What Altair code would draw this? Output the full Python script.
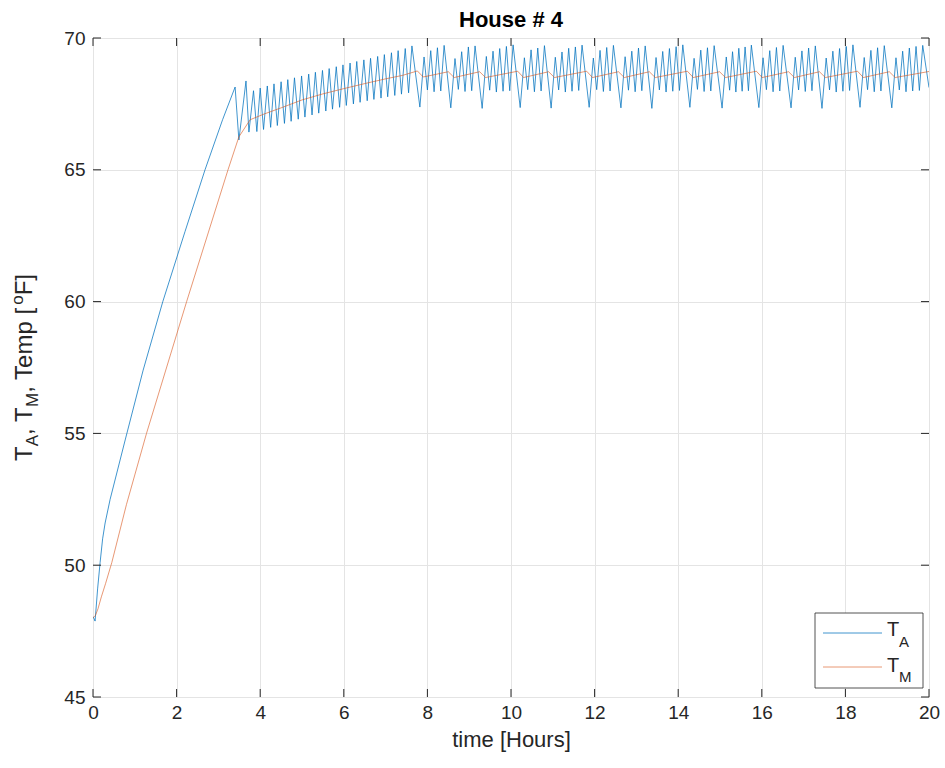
import altair as alt
import pandas as pd

# ---------------- data ----------------
# T_A : air temperature, turning points (hours, degF)
ta_t = [0.00, 0.05, 0.11, 0.17, 0.23, 0.29, 0.41, 0.77, 1.20, 1.67, 2.20, 2.68, 3.10, 3.40, 3.49, 3.66, 3.73,
        3.84, 3.92, 4.00, 4.08, 4.17, 4.25, 4.33, 4.41, 4.50, 4.58, 4.66, 4.74, 4.82, 4.91, 4.99, 5.07,
        5.16, 5.24, 5.32, 5.40, 5.49, 5.57, 5.65, 5.73, 5.82, 5.90, 5.98, 6.06, 6.15, 6.23, 6.31, 6.39,
        6.48, 6.56, 6.64, 6.72, 6.81, 6.89, 6.97, 7.05, 7.14, 7.22, 7.30, 7.38, 7.47, 7.55, 7.63, 7.82,
        7.92, 8.00, 8.08, 8.16, 8.24, 8.32, 8.40, 8.56,
        8.66, 8.74, 8.82, 8.90, 8.98, 9.06, 9.14, 9.31,
        9.41, 9.49, 9.57, 9.65, 9.73, 9.81, 9.89, 9.97, 10.05, 10.22,
        10.32, 10.40, 10.48, 10.56, 10.64, 10.72, 10.80, 10.96,
        11.06, 11.14, 11.22, 11.30, 11.38, 11.46, 11.54, 11.62, 11.70, 11.87,
        11.97, 12.05, 12.13, 12.21, 12.29, 12.37, 12.45, 12.63,
        12.73, 12.81, 12.89, 12.97, 13.05, 13.13, 13.21, 13.37,
        13.47, 13.55, 13.63, 13.71, 13.79, 13.87, 13.95, 14.03, 14.11, 14.28,
        14.38, 14.46, 14.54, 14.62, 14.70, 14.78, 14.86, 15.05,
        15.15, 15.23, 15.30, 15.38, 15.45, 15.53, 15.60, 15.68, 15.75, 15.93,
        16.03, 16.11, 16.19, 16.27, 16.35, 16.43, 16.51, 16.70,
        16.80, 16.88, 16.96, 17.04, 17.12, 17.20, 17.28, 17.44,
        17.54, 17.62, 17.70, 17.78, 17.86, 17.94, 18.02, 18.10, 18.18, 18.35,
        18.45, 18.53, 18.61, 18.69, 18.77, 18.85, 18.93, 19.11,
        19.21, 19.29, 19.37, 19.45, 19.53, 19.61, 19.69, 19.77, 19.85, 20.00]
ta_v = [48.05, 47.88, 49.10, 50.10, 51.00, 51.60, 52.50, 54.75, 57.40, 60.00, 62.65, 65.00, 66.90, 68.14, 66.13, 68.37, 66.43,
        68.00, 66.45, 68.10, 66.53, 68.18, 66.61, 68.26, 66.68, 68.34, 66.76, 68.42, 66.84, 68.49, 66.92, 68.56, 67.00,
        68.63, 67.08, 68.70, 67.15, 68.77, 67.23, 68.84, 67.30, 68.91, 67.37, 68.98, 67.44, 69.05, 67.50, 69.11, 67.56,
        69.17, 67.62, 69.23, 67.67, 69.30, 67.72, 69.37, 67.77, 69.44, 67.82, 69.52, 67.87, 69.60, 67.92, 69.70, 67.38,
        69.28, 68.03, 69.52, 67.96, 69.63, 67.99, 69.72, 67.35,
        69.22, 68.05, 69.48, 67.97, 69.66, 68.00, 69.70, 67.33,
        69.30, 68.02, 69.50, 67.95, 69.60, 67.98, 69.68, 68.00, 69.74, 67.36,
        69.25, 68.04, 69.55, 67.96, 69.62, 67.99, 69.71, 67.34,
        69.27, 68.03, 69.47, 67.95, 69.61, 67.98, 69.66, 68.01, 69.73, 67.37,
        69.24, 68.04, 69.53, 67.97, 69.64, 67.99, 69.72, 67.35,
        69.29, 68.02, 69.50, 67.96, 69.62, 68.00, 69.70, 67.33,
        69.26, 68.03, 69.49, 67.95, 69.60, 67.98, 69.67, 68.01, 69.74, 67.37,
        69.23, 68.05, 69.54, 67.97, 69.63, 67.99, 69.71, 67.34,
        69.28, 68.02, 69.48, 67.95, 69.61, 67.98, 69.66, 68.00, 69.73, 67.36,
        69.25, 68.04, 69.52, 67.96, 69.64, 67.99, 69.72, 67.35,
        69.27, 68.03, 69.51, 67.97, 69.62, 68.00, 69.70, 67.33,
        69.24, 68.03, 69.50, 67.95, 69.60, 67.98, 69.68, 68.01, 69.74, 67.37,
        69.26, 68.04, 69.53, 67.96, 69.63, 67.99, 69.71, 67.35,
        69.25, 68.03, 69.50, 67.96, 69.62, 67.99, 69.68, 68.01, 69.72, 68.12]

# T_M : mass temperature
tm_t = [0.00, 0.06, 0.12, 0.20, 0.30, 0.45, 0.80, 1.28, 2.24, 3.23, 3.49, 3.76, 4.10, 4.50, 5.00, 5.50, 6.00, 6.50, 7.00, 7.40, 7.76,
        7.90, 8.50, 8.64, 9.25, 9.39, 10.16, 10.30, 10.90, 11.04, 11.81, 11.95, 12.57, 12.71, 13.31,
        13.45, 14.22, 14.36, 14.99, 15.13, 15.87, 16.01, 16.64, 16.78, 17.38, 17.52, 18.29, 18.43, 19.05,
        19.19, 20.00]
tm_v = [48.00, 48.10, 48.35, 48.80, 49.30, 50.10, 52.30, 55.00, 60.00, 65.00, 66.25, 66.90, 67.12, 67.35, 67.65, 67.88, 68.08, 68.27, 68.45, 68.58, 68.75,
        68.52, 68.72, 68.50, 68.72, 68.50, 68.74, 68.50, 68.72, 68.50, 68.74, 68.50, 68.72, 68.50, 68.72,
        68.50, 68.74, 68.50, 68.72, 68.50, 68.74, 68.50, 68.72, 68.50, 68.72, 68.50, 68.74, 68.50, 68.72,
        68.50, 68.73]

x_ticks = [0, 2, 4, 6, 8, 10, 12, 14, 16, 18, 20]
y_ticks = [45, 50, 55, 60, 65, 70]
series_names = ["T_A", "T_M"]

# ---------------- styling ----------------
W, H = 836, 659
FONT = "Liberation Sans"
BLUE = "#0072BD"
ORANGE = "#D95319"
AXC = "#262626"
BOX = "#7a7a7a"
TICK_LEN = 8

df_a = pd.DataFrame({"t": ta_t, "v": ta_v, "i": range(len(ta_t))})
df_m = pd.DataFrame({"t": tm_t, "v": tm_v, "i": range(len(tm_t))})
one = pd.DataFrame({"a": [0]})

xs = alt.Scale(domain=[0, 20], nice=False, zero=False)
ys = alt.Scale(domain=[45, 70], nice=False, zero=False)

x_enc = alt.X("t:Q", scale=xs,
              axis=alt.Axis(values=x_ticks, title="time [Hours]", grid=True, ticks=False, domain=False,
                            labelPadding=6, titlePadding=7, labelFontSize=19, titleFontSize=22,
                            labelFont=FONT, titleFont=FONT, labelColor=AXC, titleColor=AXC,
                            titleFontWeight="normal", gridColor="#e4e4e4", labelFlush=False))
y_enc = alt.Y("v:Q", scale=ys,
              axis=alt.Axis(values=y_ticks, title=None, grid=True, ticks=False, domain=False,
                            labelPadding=8, labelFontSize=19, labelFont=FONT, labelColor=AXC,
                            gridColor="#e4e4e4", labelFlush=False))

line_a = alt.Chart(df_a).mark_line(color=BLUE, strokeWidth=1, opacity=0.75, clip=True).encode(
    x=x_enc, y=y_enc, order="i:Q")
line_m = alt.Chart(df_m).mark_line(color=ORANGE, strokeWidth=1, opacity=0.6, clip=True).encode(
    x=alt.X("t:Q", scale=xs), y=alt.Y("v:Q", scale=ys), order="i:Q")

df_xt = pd.DataFrame({"t": x_ticks})
df_yt = pd.DataFrame({"v": y_ticks})
tick_b = alt.Chart(df_xt).mark_rule(color=AXC, strokeWidth=1).encode(
    x=alt.X("t:Q", scale=xs), y=alt.value(H), y2=alt.value(H - TICK_LEN))
tick_t = alt.Chart(df_xt).mark_rule(color=AXC, strokeWidth=1).encode(
    x=alt.X("t:Q", scale=xs), y=alt.value(0), y2=alt.value(TICK_LEN))
tick_l = alt.Chart(df_yt).mark_rule(color=AXC, strokeWidth=1).encode(
    y=alt.Y("v:Q", scale=ys), x=alt.value(0), x2=alt.value(TICK_LEN))
tick_r = alt.Chart(df_yt).mark_rule(color=AXC, strokeWidth=1).encode(
    y=alt.Y("v:Q", scale=ys), x=alt.value(W), x2=alt.value(W - TICK_LEN))

# ---------------- legend (drawn by hand for subscripts) ----------------
LX0, LX1, LY0, LY1 = 722, 830, 575, 650
leg_box = alt.Chart(one).mark_rect(fill="white", stroke=AXC, strokeWidth=0.8).encode(
    x=alt.value(LX0), x2=alt.value(LX1), y=alt.value(LY0), y2=alt.value(LY1))
leg_la = alt.Chart(one).mark_rule(color=BLUE, strokeWidth=1, opacity=0.75).encode(
    x=alt.value(730), x2=alt.value(789), y=alt.value(595))
leg_lm = alt.Chart(one).mark_rule(color=ORANGE, strokeWidth=1, opacity=0.6).encode(
    x=alt.value(730), x2=alt.value(789), y=alt.value(629))

def txt(s, x, y, size, angle=0, weight="normal", align="left", color=AXC):
    return alt.Chart(one).mark_text(text=s, font=FONT, fontSize=size, color=color, align=align,
                                    baseline="alphabetic", angle=angle, fontWeight=weight).encode(
        x=alt.value(x), y=alt.value(y))

leg_txt = [
    txt("T", 794, 598, 20), txt("A", 806, 609, 15),
    txt("T", 794, 634, 20), txt("M", 806, 644, 15),
]

# ---------------- title ----------------
title_txt = txt("House # 4", W / 2, -11, 22, weight="bold", align="center", color="#000000")

# ---------------- y-axis title with sub/superscripts ----------------
CW = {"T": 0.611, "A": 0.667, "M": 0.833, ",": 0.278, " ": 0.278, "e": 0.556, "m": 0.833,
      "p": 0.556, "[": 0.278, "]": 0.278, "o": 0.556, "F": 0.611}
FM, FS = 24, 17
pieces = [("T", FM, 0), ("A", FS, 6), (", T", FM, 0), ("M", FS, 6), (", Temp [", FM, 0),
          ("o", FS, -9), ("F]", FM, 0)]
total = sum(sum(CW[c] for c in s) * f for s, f, _ in pieces)
XB = -61
ypos = H / 2 + total / 2
ytitle = []
for s, f, sh in pieces:
    ytitle.append(txt(s, XB + sh, ypos, f, angle=270))
    ypos -= sum(CW[c] for c in s) * f

chart = alt.layer(line_a, line_m, tick_b, tick_t, tick_l, tick_r, leg_box, leg_la, leg_lm,
                  *leg_txt, title_txt, *ytitle).properties(
    width=W, height=H,
    autosize=alt.AutoSizeParams(type="none"),
    padding={"left": 93, "top": 38, "right": 16, "bottom": 71},
).configure_view(stroke=BOX, strokeWidth=1).configure(background="white")

chart.save("out.html", embed_options={"renderer": "svg", "actions": False})
